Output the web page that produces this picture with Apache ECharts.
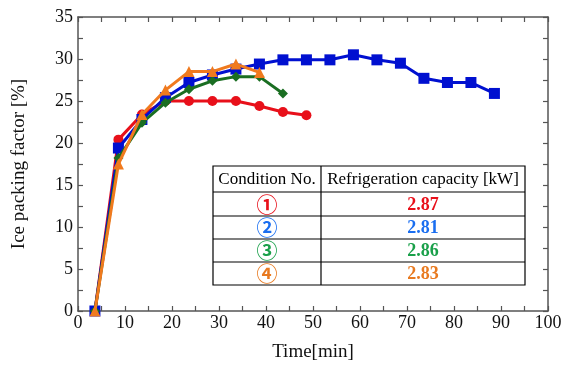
<!DOCTYPE html>
<html><head><meta charset="utf-8">
<script src="https://cdn.jsdelivr.net/npm/echarts@6/dist/echarts.min.js"></script>
<style>html,body{margin:0;padding:0;background:#fff}#c{width:576px;height:367px}</style>
</head><body><div id="c"></div>
<script>
const times = [3.6, 8.6, 13.6, 18.6, 23.6, 28.6, 33.6, 38.6, 43.6, 48.6, 53.6, 58.6, 63.6, 68.6, 73.6, 78.6, 83.6, 88.6];
const cond1 = [0, 20.4, 23.4, 25.0, 25.0, 25.0, 25.0, 24.4, 23.7, 23.3];
const cond2 = [0, 19.4, 22.8, 25.4, 27.2, 28.1, 28.8, 29.4, 29.9, 29.9, 29.9, 30.5, 29.9, 29.5, 27.7, 27.2, 27.2, 25.9];
const cond3 = [0, 18.2, 22.4, 24.8, 26.4, 27.4, 27.9, 27.9, 25.9];
const cond4 = [0, 17.5, 23.4, 26.3, 28.5, 28.5, 29.4, 28.4];
const conditionLabels = ['①', '②', '③', '④'];
const capacities = ['2.87', '2.81', '2.86', '2.83'];
const colors = ['#e8101a', '#0010d0', '#1a6e22', '#f07a1e'];
const tableColors = ['#e8101a', '#1a6ef0', '#1aa04a', '#e87a20'];
const symbols = ['circle', 'rect', 'diamond', 'triangle'];
const symSizes = [10, 11, 10, 11];

const pair = arr => arr.map((v, i) => [times[i], v]);
const allData = [cond1, cond2, cond3, cond4];

const serif = '"Liberation Serif", "Times New Roman", serif';
const axisCol = '#555';

const chart = echarts.init(document.getElementById('c'), null, {renderer: 'canvas'});

const series = allData.map((d, k) => ({
  type: 'line', data: pair(d), symbol: symbols[k], symbolSize: symSizes[k],
  lineStyle: {color: colors[k], width: 3}, itemStyle: {color: colors[k]},
  animation: false, z: 2 + k
}));

// table geometry
const tx0 = 213, tx1 = 525, tdiv = 321, ty = [166, 192, 216, 239, 262, 285];
const g = [];
g.push({type: 'rect', shape: {x: tx0, y: ty[0], width: tx1 - tx0, height: ty[5] - ty[0]},
  style: {fill: '#fff', stroke: '#000', lineWidth: 1.2}, z: 100});
for (let i = 1; i < 5; i++) g.push({type: 'line', shape: {x1: tx0, y1: ty[i], x2: tx1, y2: ty[i]}, style: {stroke: '#000', lineWidth: 1.2}, z: 101});
g.push({type: 'line', shape: {x1: tdiv, y1: ty[0], x2: tdiv, y2: ty[5]}, style: {stroke: '#000', lineWidth: 1.2}, z: 101});
g.push({type: 'text', x: (tx0 + tdiv) / 2, y: (ty[0] + ty[1]) / 2 + 1, style: {text: 'Condition No.', font: '17px ' + serif, fill: '#000', align: 'center', verticalAlign: 'middle'}, z: 102});
g.push({type: 'text', x: (tdiv + tx1) / 2, y: (ty[0] + ty[1]) / 2 + 1, style: {text: 'Refrigeration capacity [kW]', font: '17px ' + serif, fill: '#000', align: 'center', verticalAlign: 'middle'}, z: 102});
for (let i = 0; i < 4; i++) {
  const cy = (ty[i + 1] + ty[i + 2]) / 2;
  g.push({type: 'text', x: (tx0 + tdiv) / 2, y: cy, style: {text: conditionLabels[i], font: 'bold 21px "Noto Sans CJK JP"', fill: tableColors[i], align: 'center', verticalAlign: 'middle'}, z: 102});
  g.push({type: 'text', x: (tdiv + tx1) / 2, y: cy + 1, style: {text: capacities[i], font: 'bold 18px ' + serif, fill: tableColors[i], align: 'center', verticalAlign: 'middle'}, z: 102});
}

const common = {
  min: 0, axisLine: {show: true, onZero: false, lineStyle: {color: axisCol, width: 1.5}},
  axisTick: {show: true, inside: true, length: 5, lineStyle: {color: axisCol, width: 1.2}},
  minorTick: {show: true, splitNumber: 2, length: 5, lineStyle: {color: axisCol, width: 1.2}},
  splitLine: {show: false}
};

chart.setOption({
  animation: false,
  grid: {left: 78, right: 28, top: 17, bottom: 53},
  xAxis: [
    Object.assign({}, common, {type: 'value', max: 100, interval: 10, position: 'bottom',
      axisLabel: {color: '#111', fontFamily: serif, fontSize: 18, margin: 3},
      name: 'Time[min]', nameLocation: 'middle', nameGap: 32,
      nameTextStyle: {color: '#111', fontFamily: serif, fontSize: 19}}),
    Object.assign({}, common, {type: 'value', max: 100, interval: 10, position: 'top', axisLabel: {show: false}})
  ],
  yAxis: [
    Object.assign({}, common, {type: 'value', max: 35, interval: 5, position: 'left',
      axisLabel: {color: '#111', fontFamily: serif, fontSize: 18, margin: 5},
      name: 'Ice packing factor [%]', nameLocation: 'middle', nameGap: 49,
      nameTextStyle: {color: '#111', fontFamily: serif, fontSize: 19}}),
    Object.assign({}, common, {type: 'value', max: 35, interval: 5, position: 'right', axisLabel: {show: false}})
  ],
  series: series,
  graphic: g
});
</script></body></html>
